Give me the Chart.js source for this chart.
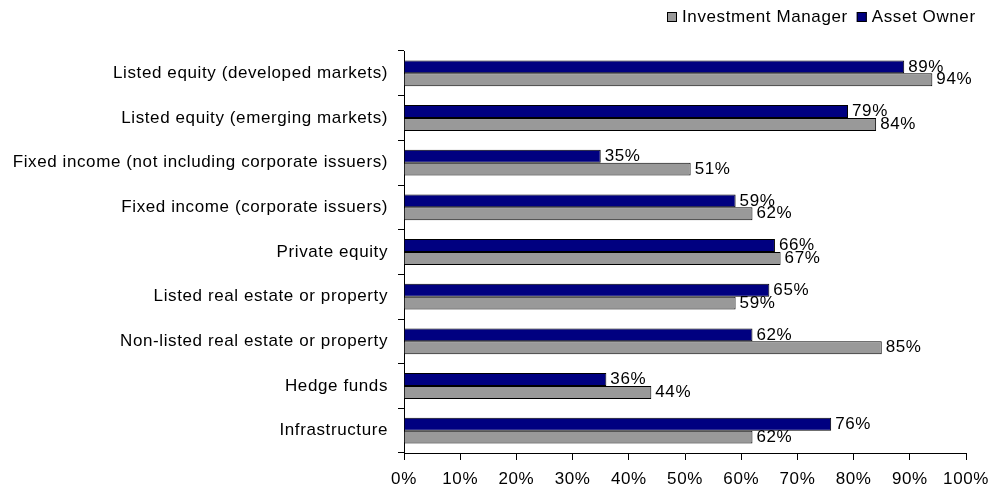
<!DOCTYPE html>
<html>
<head>
<meta charset="utf-8">
<script src="https://cdn.jsdelivr.net/npm/chart.js@4.4.1/dist/chart.umd.min.js"></script>
<style>
html,body{margin:0;padding:0;background:#fff;}
#wrap{width:998px;height:494px;}
</style>
</head>
<body>
<div id="wrap"><canvas id="c" width="998" height="494"></canvas></div>
<script>
const categories = [
  "Listed equity (developed markets)",
  "Listed equity (emerging markets)",
  "Fixed income (not including corporate issuers)",
  "Fixed income (corporate issuers)",
  "Private equity",
  "Listed real estate or property",
  "Non-listed real estate or property",
  "Hedge funds",
  "Infrastructure"
];
const assetOwner = [89, 79, 35, 59, 66, 65, 62, 36, 76];
const investmentManager = [94, 84, 51, 62, 67, 59, 85, 44, 62];
const xTicks = [0, 10, 20, 30, 40, 50, 60, 70, 80, 90, 100];
const legendOrder = ["Investment Manager", "Asset Owner"];

const FONT = "'Liberation Sans', Arial, sans-serif";
const FSIZE = 17;
const SPACING = '0.6px';
Chart.defaults.font.family = FONT;
Chart.defaults.font.size = FSIZE;
Chart.defaults.color = '#000';

const spacingPlugin = {
  id: 'spacing',
  beforeInit(chart) { chart.ctx.letterSpacing = SPACING; },
  beforeLayout(chart) { chart.ctx.letterSpacing = SPACING; },
  beforeDraw(chart) { chart.ctx.letterSpacing = SPACING; }
};

const valueLabels = {
  id: 'valueLabels',
  afterDatasetsDraw(chart) {
    const ctx = chart.ctx;
    ctx.save();
    ctx.letterSpacing = SPACING;
    ctx.font = FSIZE + 'px ' + FONT;
    ctx.fillStyle = '#000';
    ctx.textBaseline = 'middle';
    ctx.textAlign = 'left';
    chart.data.datasets.forEach((ds, di) => {
      const meta = chart.getDatasetMeta(di);
      meta.data.forEach((el, i) => {
        ctx.fillText(ds.data[i] + '%', el.x + 4, el.y);
      });
    });
    ctx.restore();
  }
};

const customLegend = {
  id: 'customLegend',
  afterDraw(chart) {
    const ctx = chart.ctx;
    ctx.save();
    ctx.letterSpacing = SPACING;
    ctx.font = FSIZE + 'px ' + FONT;
    ctx.textBaseline = 'middle';
    let x = 667;
    const y = 17;
    legendOrder.forEach((name) => {
      const ds = chart.data.datasets.find(d => d.label === name);
      ctx.fillStyle = ds.backgroundColor;
      ctx.fillRect(x, y - 5, 10, 10);
      ctx.strokeStyle = '#000';
      ctx.lineWidth = 1;
      ctx.strokeRect(x + 0.5, y - 4.5, 9, 9);
      ctx.fillStyle = '#000';
      ctx.fillText(name, x + 15, y);
      x += 15 + ctx.measureText(name).width + 9;
    });
    ctx.restore();
  }
};

new Chart(document.getElementById('c'), {
  type: 'bar',
  data: {
    labels: categories,
    datasets: [
      { label: 'Asset Owner', data: assetOwner, backgroundColor: '#000080', borderColor: '#000', borderWidth: 1 },
      { label: 'Investment Manager', data: investmentManager, backgroundColor: '#999999', borderColor: '#000', borderWidth: 1 }
    ]
  },
  options: {
    indexAxis: 'y',
    responsive: false,
    animation: false,
    layout: { padding: { top: 51, right: 23, left: 0, bottom: 0 } },
    datasets: { bar: { categoryPercentage: 0.58, barPercentage: 1.0 } },
    plugins: { legend: { display: false }, tooltip: { enabled: false } },
    scales: {
      x: {
        min: 0, max: 100,
        afterBuildTicks(scale) { scale.ticks = xTicks.map(v => ({ value: v })); },
        ticks: { callback: v => v + '%', padding: 9, maxRotation: 0, autoSkip: false },
        grid: { drawOnChartArea: false, drawTicks: true, tickLength: 7, color: '#000' },
        border: { display: true, color: '#000', width: 1 },
        afterFit(scale) { scale.height = 41; }
      },
      y: {
        ticks: { padding: 10, autoSkip: false },
        grid: { drawOnChartArea: false, drawTicks: true, tickLength: 6, color: '#000', offset: true },
        border: { display: true, color: '#000', width: 1 },
        afterFit(scale) { scale.width = 404; }
      }
    }
  },
  plugins: [spacingPlugin, valueLabels, customLegend]
});
</script>
</body>
</html>
